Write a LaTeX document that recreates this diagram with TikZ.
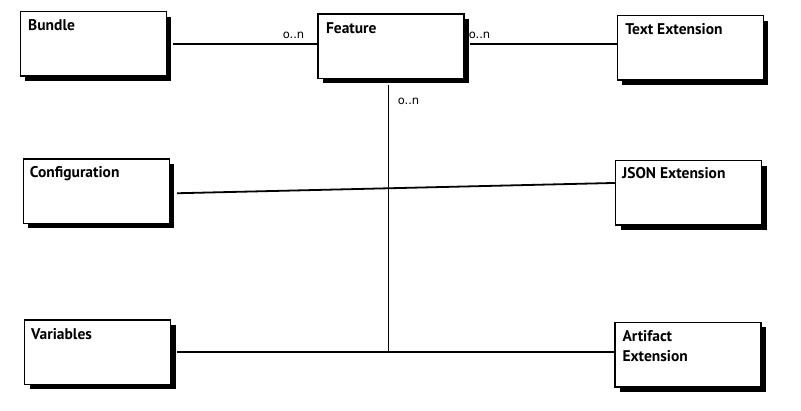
\documentclass[tikz,border=0pt]{standalone}
\usepackage{fontspec}
\setmainfont{PT Sans}
\newfontfamily\cardfont{DejaVu Sans}
\usetikzlibrary{shadows,calc}
\begin{document}
\begin{tikzpicture}[x=1pt,y=-1pt,
  ent/.style={draw=black, line width=1.4pt, fill=white, minimum width=146pt, minimum height=64.5pt,
    inner sep=0pt, anchor=north west,
    drop shadow={shadow xshift=5pt, shadow yshift=-5pt, opacity=1, fill=black}},
  ttl/.style={anchor=base west, inner sep=0pt, font=\fontsize{15.5}{20}\selectfont\bfseries, align=left},
  card/.style={font=\cardfont\fontsize{11.5}{13}\selectfont, inner sep=0pt},
  conn/.style={line width=1.8pt}]
\useasboundingbox (0,0) rectangle (801,411);

\node[ent] (bundle) at (19.5,11) {};
\node[ttl] (bundleT) at ($(bundle.north west)+(8.5,20)$) {Bundle};

\node[ent] (feature) at (317.3,13.3) {};
\node[ttl] (featureT) at ($(feature.north west)+(8.5,20)$) {Feature};

\node[ent] (textext) at (616.7,15) {};
\node[ttl] (textextT) at ($(textext.north west)+(8.5,20)$) {Text Extension};

\node[ent] (config) at (22.7,158.3) {};
\node[ttl] (configT) at ($(config.north west)+(7,19)$) {Configuration};

\node[ent] (json) at (615,160) {};
\node[ttl] (jsonT) at ($(json.north west)+(7,19)$) {JSON Extension};

\node[ent] (vars) at (24,319.3) {};
\node[ttl] (varsT) at ($(vars.north west)+(7,20)$) {Variables};

\node[ent] (art) at (614.3,321.7) {};
\node[ttl] (artT) at ($(art.north west)+(8,40)$) {Artifact\\Extension};

\coordinate (fv) at (388.5,85);
\coordinate (j) at (388.5,351.7);

\draw[conn] ($(bundle.east)+(6,0)$) -- (bundle.east -| feature.west);
\draw[conn] ($(feature.east)+(5,-2)$) -- ($(feature.east -| textext.west)+(0,-2)$);
\draw[conn] ($(config.east)+(7,2)$) -- ($(json.west)+(0,-10)$);
\draw[conn] ($(vars.east)+(6,0)$) -- (vars.east -| art.west);
\draw[conn] (fv) -- (j);

\node[card] (c1) at (293.5,35.5) {o..n};
\node[card] (c2) at (479.5,35.5) {o..n};
\node[card] (c3) at (408.5,101) {o..n};
\end{tikzpicture}
\end{document}
